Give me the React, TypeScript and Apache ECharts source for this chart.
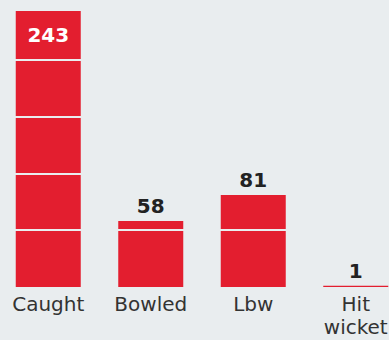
import React, { useEffect, useRef } from "react";
import * as echarts from "echarts";

const categories = ["Caught", "Bowled", "Lbw", "Hit\nwicket"];
const values = [243, 58, 81, 1];
const insideLabelIndex = 0;

const BG = "#e9edef";
const RED = "#e31e2f";

export default function App() {
  const ref = useRef<HTMLDivElement>(null);
  useEffect(() => {
    document.body.style.background = BG;
    const chart = echarts.init(ref.current!, null, { renderer: "svg" });
    chart.setOption({
      animation: false,
      backgroundColor: BG,
      grid: { left: 0, right: 0, top: 3, bottom: 53 },
      xAxis: {
        type: "category",
        data: categories,
        axisLine: { show: false },
        axisTick: { show: false },
        axisLabel: {
          color: "#333",
          fontFamily: "DejaVu Sans",
          fontSize: 20,
          lineHeight: 23,
          margin: 5,
          interval: 0,
        },
      },
      yAxis: {
        type: "value",
        min: 0,
        max: 250,
        interval: 50,
        z: 10,
        axisLabel: { show: false },
        axisLine: { show: false },
        axisTick: { show: false },
        splitLine: {
          show: true,
          showMinLine: false,
          lineStyle: { color: BG, width: 2 },
        },
      },
      series: [
        {
          type: "bar",
          barWidth: 65,
          z: 2,
          itemStyle: { color: RED },
          data: values,
        },
        {
          type: "bar",
          barWidth: 65,
          barGap: "-100%",
          z: 12,
          itemStyle: { color: "transparent" },
          label: {
            show: true,
            position: "top",
            distance: 5,
            color: "#222",
            fontFamily: "DejaVu Sans",
            fontWeight: "bold",
            fontSize: 20,
          },
          data: values.map((v, i) =>
            i === insideLabelIndex
              ? {
                  value: v,
                  label: { position: "insideTop", distance: 14, color: "#fff" },
                }
              : v
          ),
        },
      ],
    });
    return () => chart.dispose();
  }, []);
  return (
    <div
      ref={ref}
      style={{ position: "fixed", left: -3, top: 0, width: 410, height: 340 }}
    />
  );
}
